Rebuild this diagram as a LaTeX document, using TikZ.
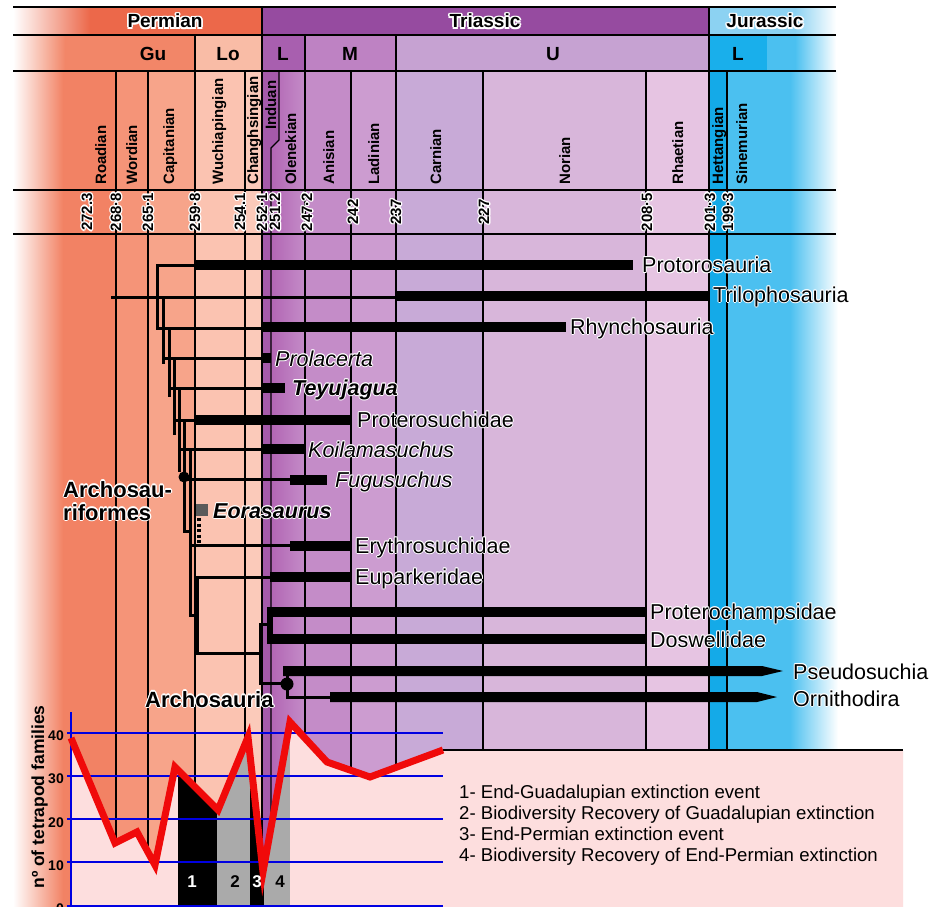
\documentclass[tikz,border=0pt]{standalone}
\usepackage{fontspec}
\setmainfont{Liberation Sans}
\newlength\hw
\setlength\hw{1.2pt}
\newcommand\hcp[3]{\rlap{\hspace*{#1}\raisebox{#2}{\color{white}#3}}}
\newcommand\hal[1]{\hcp{-\hw}{0pt}{#1}\hcp{\hw}{0pt}{#1}\hcp{0pt}{\hw}{#1}\hcp{0pt}{-\hw}{#1}\hcp{-.7\hw}{.7\hw}{#1}\hcp{.7\hw}{.7\hw}{#1}\hcp{-.7\hw}{-.7\hw}{#1}\hcp{.7\hw}{-.7\hw}{#1}#1}
\definecolor{perm}{RGB}{236,104,74}
\definecolor{gu}{RGB}{242,134,104}
\definecolor{lo}{RGB}{249,188,166}
\definecolor{roa}{RGB}{242,130,100}
\definecolor{wor}{RGB}{245,148,120}
\definecolor{capi}{RGB}{247,164,138}
\definecolor{wuc}{RGB}{251,195,177}
\definecolor{cha}{RGB}{251,202,186}
\definecolor{tri}{RGB}{150,75,160}
\definecolor{tl}{RGB}{168,95,175}
\definecolor{tm}{RGB}{190,130,195}
\definecolor{tu}{RGB}{198,162,210}
\definecolor{ind}{RGB}{165,90,170}
\definecolor{ole}{RGB}{178,102,180}
\definecolor{ani}{RGB}{196,140,200}
\definecolor{lad}{RGB}{204,156,208}
\definecolor{car}{RGB}{200,170,215}
\definecolor{nor}{RGB}{216,182,218}
\definecolor{rha}{RGB}{230,196,226}
\definecolor{jur}{RGB}{140,210,242}
\definecolor{jl}{RGB}{25,175,235}
\definecolor{jl2}{RGB}{75,192,240}
\definecolor{het}{RGB}{20,170,232}
\definecolor{sin}{RGB}{75,192,240}
\definecolor{chartbg}{RGB}{253,222,222}
\definecolor{bl}{RGB}{0,0,225}
\definecolor{rd}{RGB}{240,10,10}
\definecolor{eor}{RGB}{90,90,90}
\definecolor{evg}{RGB}{170,170,170}
\tikzset{
  gl/.style={line width=1.4pt, black},
  br/.style={line width=3pt, black, line cap=rect},
  bar/.style={line width=10.5pt, black},
  per/.style={inner sep=0, anchor=base, font=\fontsize{19}{21}\selectfont\bfseries\setlength\hw{1.7pt}},
  stg/.style={inner sep=0, anchor=base west, rotate=90, text=black, font=\fontsize{15}{17}\selectfont\bfseries},
  num/.style={inner sep=0, rotate=90, font=\fontsize{15}{17}\selectfont\bfseries\setlength\hw{1.3pt}},
  tx/.style={inner sep=0, anchor=base west, font=\fontsize{21.5}{24}\selectfont\setlength\hw{1pt}},
  txi/.style={tx, font=\fontsize{21.5}{24}\selectfont\itshape\setlength\hw{1pt}},
  txb/.style={tx, font=\fontsize{21.5}{24}\selectfont\bfseries\itshape\setlength\hw{1pt}},
  cl/.style={inner sep=0, anchor=base west, font=\fontsize{22}{24}\selectfont\bfseries\setlength\hw{1.2pt}},
  tick/.style={inner sep=0, anchor=base east, font=\fontsize{14}{16}\selectfont\bfseries},
  leg/.style={inner sep=0, anchor=base west, font=\fontsize{18.6}{21}\selectfont},
  evn/.style={inner sep=0, anchor=base, font=\fontsize{17}{19}\selectfont\bfseries},
}
\begin{document}
\begin{tikzpicture}[x=1pt,y=-1pt]
\useasboundingbox (0,0) rectangle (937,907);
\fill[white] (0,0) rectangle (937,907);
% ---- period row
\shade[left color=white,right color=perm] (13,7) rectangle (90,35);
\fill[perm] (90,7) rectangle (262,35);
\fill[tri] (262,7) rectangle (709,35);
\fill[jur] (709,7) rectangle (795,35);
\shade[left color=jur,right color=white] (795,7) rectangle (836,35);
% ---- epoch row
\shade[left color=white,right color=gu] (13,35) rectangle (65,71);
\fill[gu] (65,35) rectangle (195,71);
\fill[lo] (195,35) rectangle (262,71);
\fill[tl] (262,35) rectangle (305,71);
\fill[tm] (305,35) rectangle (396,71);
\fill[tu] (396,35) rectangle (709,71);
\fill[jl] (709,35) rectangle (767,71);
\fill[jl2] (767,35) rectangle (795,71);
\shade[left color=jl2,right color=white] (795,35) rectangle (836,71);
% ---- stage columns
\shade[left color=white,right color=roa] (13,71) rectangle (63,907);
\fill[roa] (63,71) rectangle (116,907);
\fill[wor] (116,71) rectangle (148,907);
\fill[capi] (148,71) rectangle (195,907);
\fill[wuc] (195,71) rectangle (245,907);
\fill[cha] (245,71) rectangle (262,907);
\shade[left color=ole,right color=ani] (271,71) rectangle (305,907);
\fill[ind] (262,71) -- (279,71) -- (279,140) -- (271,148) -- (271,907) -- (262,907) -- cycle;
\fill[ani] (305,71) rectangle (351,907);
\fill[lad] (351,71) rectangle (396,907);
\fill[car] (396,71) rectangle (483,907);
\fill[nor] (483,71) rectangle (646,907);
\fill[rha] (646,71) rectangle (709,907);
\fill[het] (709,71) rectangle (727,907);
\fill[sin] (727,71) rectangle (790,907);
\shade[left color=sin,right color=white] (790,71) rectangle (838,907);
% ---- grid lines
\foreach \yy in {7,35,71,190,234} \draw[gl] (13,\yy) -- (836,\yy);
\foreach \xx in {262,709} \draw[gl] (\xx,7) -- (\xx,907);
\foreach \xx in {195,305,396} \draw[gl] (\xx,35) -- (\xx,907);
\foreach \xx in {116,148,245,351,483,646,727} \draw[gl] (\xx,71) -- (\xx,907);
\draw[gl] (279,71) -- (279,140) -- (271,148) -- (271,907);
% ---- header texts
\node[per] (pPerm) at (165,28) {\hal{Permian}};
\node[per] (pTri) at (485,28) {\hal{Triassic}};
\node[per] (pJur) at (765,28) {\hal{Jurassic}};
\node[per] (eGu) at (153,60) {Gu};
\node[per] (eLo) at (228,60) {Lo};
\node[per] (eL1) at (283,60) {L};
\node[per] (eM) at (350,60) {M};
\node[per] (eU) at (553,60) {U};
\node[per] (eL2) at (738,60) {L};
% ---- stage names
\node[stg] (sRoa) at (106,185) {Roadian};
\node[stg] (sWor) at (137,185) {Wordian};
\node[stg] (sCap) at (174,185) {Capitanian};
\node[stg] (sWuc) at (223,185) {Wuchiapingian};
\node[stg] (sCha) at (258,185) {Changhsingian};
\node[stg] (sInd) at (276,130) {Induan};
\node[stg] (sOle) at (296,185) {Olenekian};
\node[stg] (sAni) at (334,185) {Anisian};
\node[stg] (sLad) at (379,185) {Ladinian};
\node[stg] (sCar) at (441,185) {Carnian};
\node[stg] (sNor) at (570,185) {Norian};
\node[stg] (sRha) at (683,185) {Rhaetian};
\node[stg] (sHet) at (723,185) {Hettangian};
\node[stg] (sSin) at (747,185) {Sinemurian};
% ---- ages
\node[num] (n1) at (87,212) {\hal{272.3}};
\node[num] (n2) at (116,212) {\hal{268·8}};
\node[num] (n3) at (148,212) {\hal{265·1}};
\node[num] (n4) at (195,212) {\hal{259·8}};
\node[num] (n5) at (240,212) {\hal{254.1}};
\node[num] (n6) at (262,212) {\hal{252·1}};
\node[num] (n7) at (275,212) {\hal{251.2}};
\node[num] (n8) at (307,212) {\hal{247·2}};
\node[num] (n9) at (353,212) {\hal{242}};
\node[num] (n10) at (396,212) {\hal{237}};
\node[num] (n11) at (484,212) {\hal{227}};
\node[num] (n12) at (647,212) {\hal{208·5}};
\node[num] (n13) at (710,212) {\hal{201·3}};
\node[num] (n14) at (728,212) {\hal{199·3}};
% ---- chart background under the curve
\coordinate (c1) at (71,738);
\coordinate (c2) at (115,843);
\coordinate (c3) at (137,832);
\coordinate (c4) at (155,865);
\coordinate (c5) at (175,767);
\coordinate (c6) at (218,810);
\coordinate (c7) at (248,737);
\coordinate (c8) at (263,872);
\coordinate (c9) at (290,722);
\coordinate (c10) at (327,762);
\coordinate (c11) at (370,777);
\coordinate (c12) at (443,750);
\fill[chartbg] (c1) -- (c2) -- (c3) -- (c4) -- (c5) -- (c6) -- (c7) -- (c8) -- (c9) -- (c10) -- (c11) -- (c12) -- (903,750) -- (903,907) -- (71,907) -- cycle;
\draw[gl] (c12) -- (903,750);
\begin{scope}
\clip (c1) -- (c2) -- (c3) -- (c4) -- (c5) -- (c6) -- (c7) -- (c8) -- (c9) -- (c10) -- (c11) -- (c12) -- (443,907) -- (71,907) -- cycle;
\fill[black] (178,700) rectangle (217,907);
\fill[evg] (217,700) rectangle (250,907);
\fill[black] (250,700) rectangle (264,907);
\fill[evg] (264,700) rectangle (290,907);
\end{scope}
\foreach \yy in {733,776,819,862,906} \draw[bl, line width=2.6pt] (67,\yy) -- (443,\yy);
\draw[bl, line width=2.6pt] (71,712) -- (71,907);
\draw[rd, line width=7pt, line join=miter] (c1) -- (c2) -- (c3) -- (c4) -- (c5) -- (c6) -- (c7) -- (c8) -- (c9) -- (c10) -- (c11) -- (c12);
\node[tick] (t40) at (64,740) {40};
\node[tick] (t30) at (64,783) {30};
\node[tick] (t20) at (64,827) {20};
\node[tick] (t10) at (64,870) {10};
\node[tick] (t0) at (64,913) {0};
\node[inner sep=0, anchor=base, rotate=90, font=\fontsize{17.5}{19}\selectfont\bfseries] (ylab) at (44,797) {nº of tetrapod families};
\node[evn, text=white] (ev1) at (192,887) {1};
\node[evn] (ev2) at (235,887) {2};
\node[evn, text=white] (ev3) at (257,887) {3};
\node[evn] (ev4) at (280,887) {4};
\node[leg] (l1) at (459,798) {1- End-Guadalupian extinction event};
\node[leg] (l2) at (459,819) {2- Biodiversity Recovery of Guadalupian extinction};
\node[leg] (l3) at (459,840) {3- End-Permian extinction event};
\node[leg] (l4) at (459,861) {4- Biodiversity Recovery of End-Permian extinction};
% ---- tree: branches
\draw[br] (157,265) -- (157,328);
\draw[br] (163,297) -- (163,362);
\draw[br] (169,328) -- (169,395);
\draw[br] (174,358) -- (174,433);
\draw[br] (179,388) -- (179,470);
\draw[br] (184,420) -- (184,531) -- (190,531);
\draw[br] (190,449) -- (190,615) -- (197,615);
\draw[br] (197,577) -- (197,653) -- (260,653);
\draw[br] (157,265) -- (195,265);
\draw[br] (112,297) -- (395,297);
\draw[br] (157,328) -- (263,328);
\draw[br] (163,358) -- (263,358);
\draw[br] (169,388) -- (263,388);
\draw[br] (174,420) -- (195,420);
\draw[br] (179,449) -- (263,449);
\draw[br] (184,479) -- (290,479);
\draw[br] (190,545) -- (290,545);
\draw[br] (197,577) -- (270,577);
\draw[br] (268,624) -- (260,624) -- (260,683) -- (287,683);
\draw[br] (287,667) -- (287,697) -- (330,697);
\draw[line width=4pt, dash pattern=on 3pt off 2.5pt] (199,518) -- (199,544);
% ---- tree: ranges
\draw[bar] (195,265) -- (633,265);
\draw[bar] (395,296) -- (709,296);
\draw[bar] (263,327) -- (566,327);
\draw[bar] (263,358) -- (271,358);
\draw[bar] (263,388) -- (285,388);
\draw[bar] (195,420) -- (350,420);
\draw[bar] (263,449) -- (305,449);
\draw[bar] (290,480) -- (327,480);
\draw[bar] (290,546) -- (350,546);
\draw[bar] (270,577) -- (350,577);
\draw[bar] (268,612) -- (646,612);
\draw[bar] (268,639) -- (646,639);
\draw[line width=6pt] (270,607) -- (270,644);
\fill[black] (283,666) -- (762,666) -- (783,671) -- (762,676) -- (283,676) -- cycle;
\fill[black] (330,692) -- (757,692) -- (777,697) -- (757,702) -- (330,702) -- cycle;
\fill[black] (184,477) circle (5.5);
\fill[black] (287,684) circle (6.5);
\fill[eor] (196,504) rectangle (208,516);
% ---- taxon labels
\node[tx] (Protorosauria) at (642,272.5) {\hal{Protorosauria}};
\node[tx] (Trilophosauria) at (713,302) {\hal{Trilophosauria}};
\node[tx] (Rhynchosauria) at (570,334) {\hal{Rhynchosauria}};
\node[txi] (Prolacerta) at (275,366) {\hal{Prolacerta}};
\node[txb] (Teyujagua) at (292,395) {\hal{Teyujagua}};
\node[tx] (Proterosuchidae) at (357,427) {\hal{Proterosuchidae}};
\node[txi] (Koilamasuchus) at (308,457) {\hal{Koilamasuchus}};
\node[txi] (Fugusuchus) at (335,487) {\hal{Fugusuchus}};
\node[txb] (Eorasaurus) at (213,518) {\hal{Eorasaurus}};
\node[tx] (Erythrosuchidae) at (355,553) {\hal{Erythrosuchidae}};
\node[tx] (Euparkeridae) at (355,584) {\hal{Euparkeridae}};
\node[tx] (Proterochampsidae) at (650,619) {\hal{Proterochampsidae}};
\node[tx] (Doswellidae) at (650,647) {\hal{Doswellidae}};
\node[tx] (Pseudosuchia) at (793,679) {\hal{Pseudosuchia}};
\node[tx] (Ornithodira) at (793,706) {\hal{Ornithodira}};
\node[cl] (Archosauriformes1) at (63,497) {\hal{Archosau-}};
\node[cl] (Archosauriformes2) at (63,520) {\hal{riformes}};
\node[cl] (Archosauria) at (145,707) {\hal{Archosauria}};
\end{tikzpicture}
\end{document}
